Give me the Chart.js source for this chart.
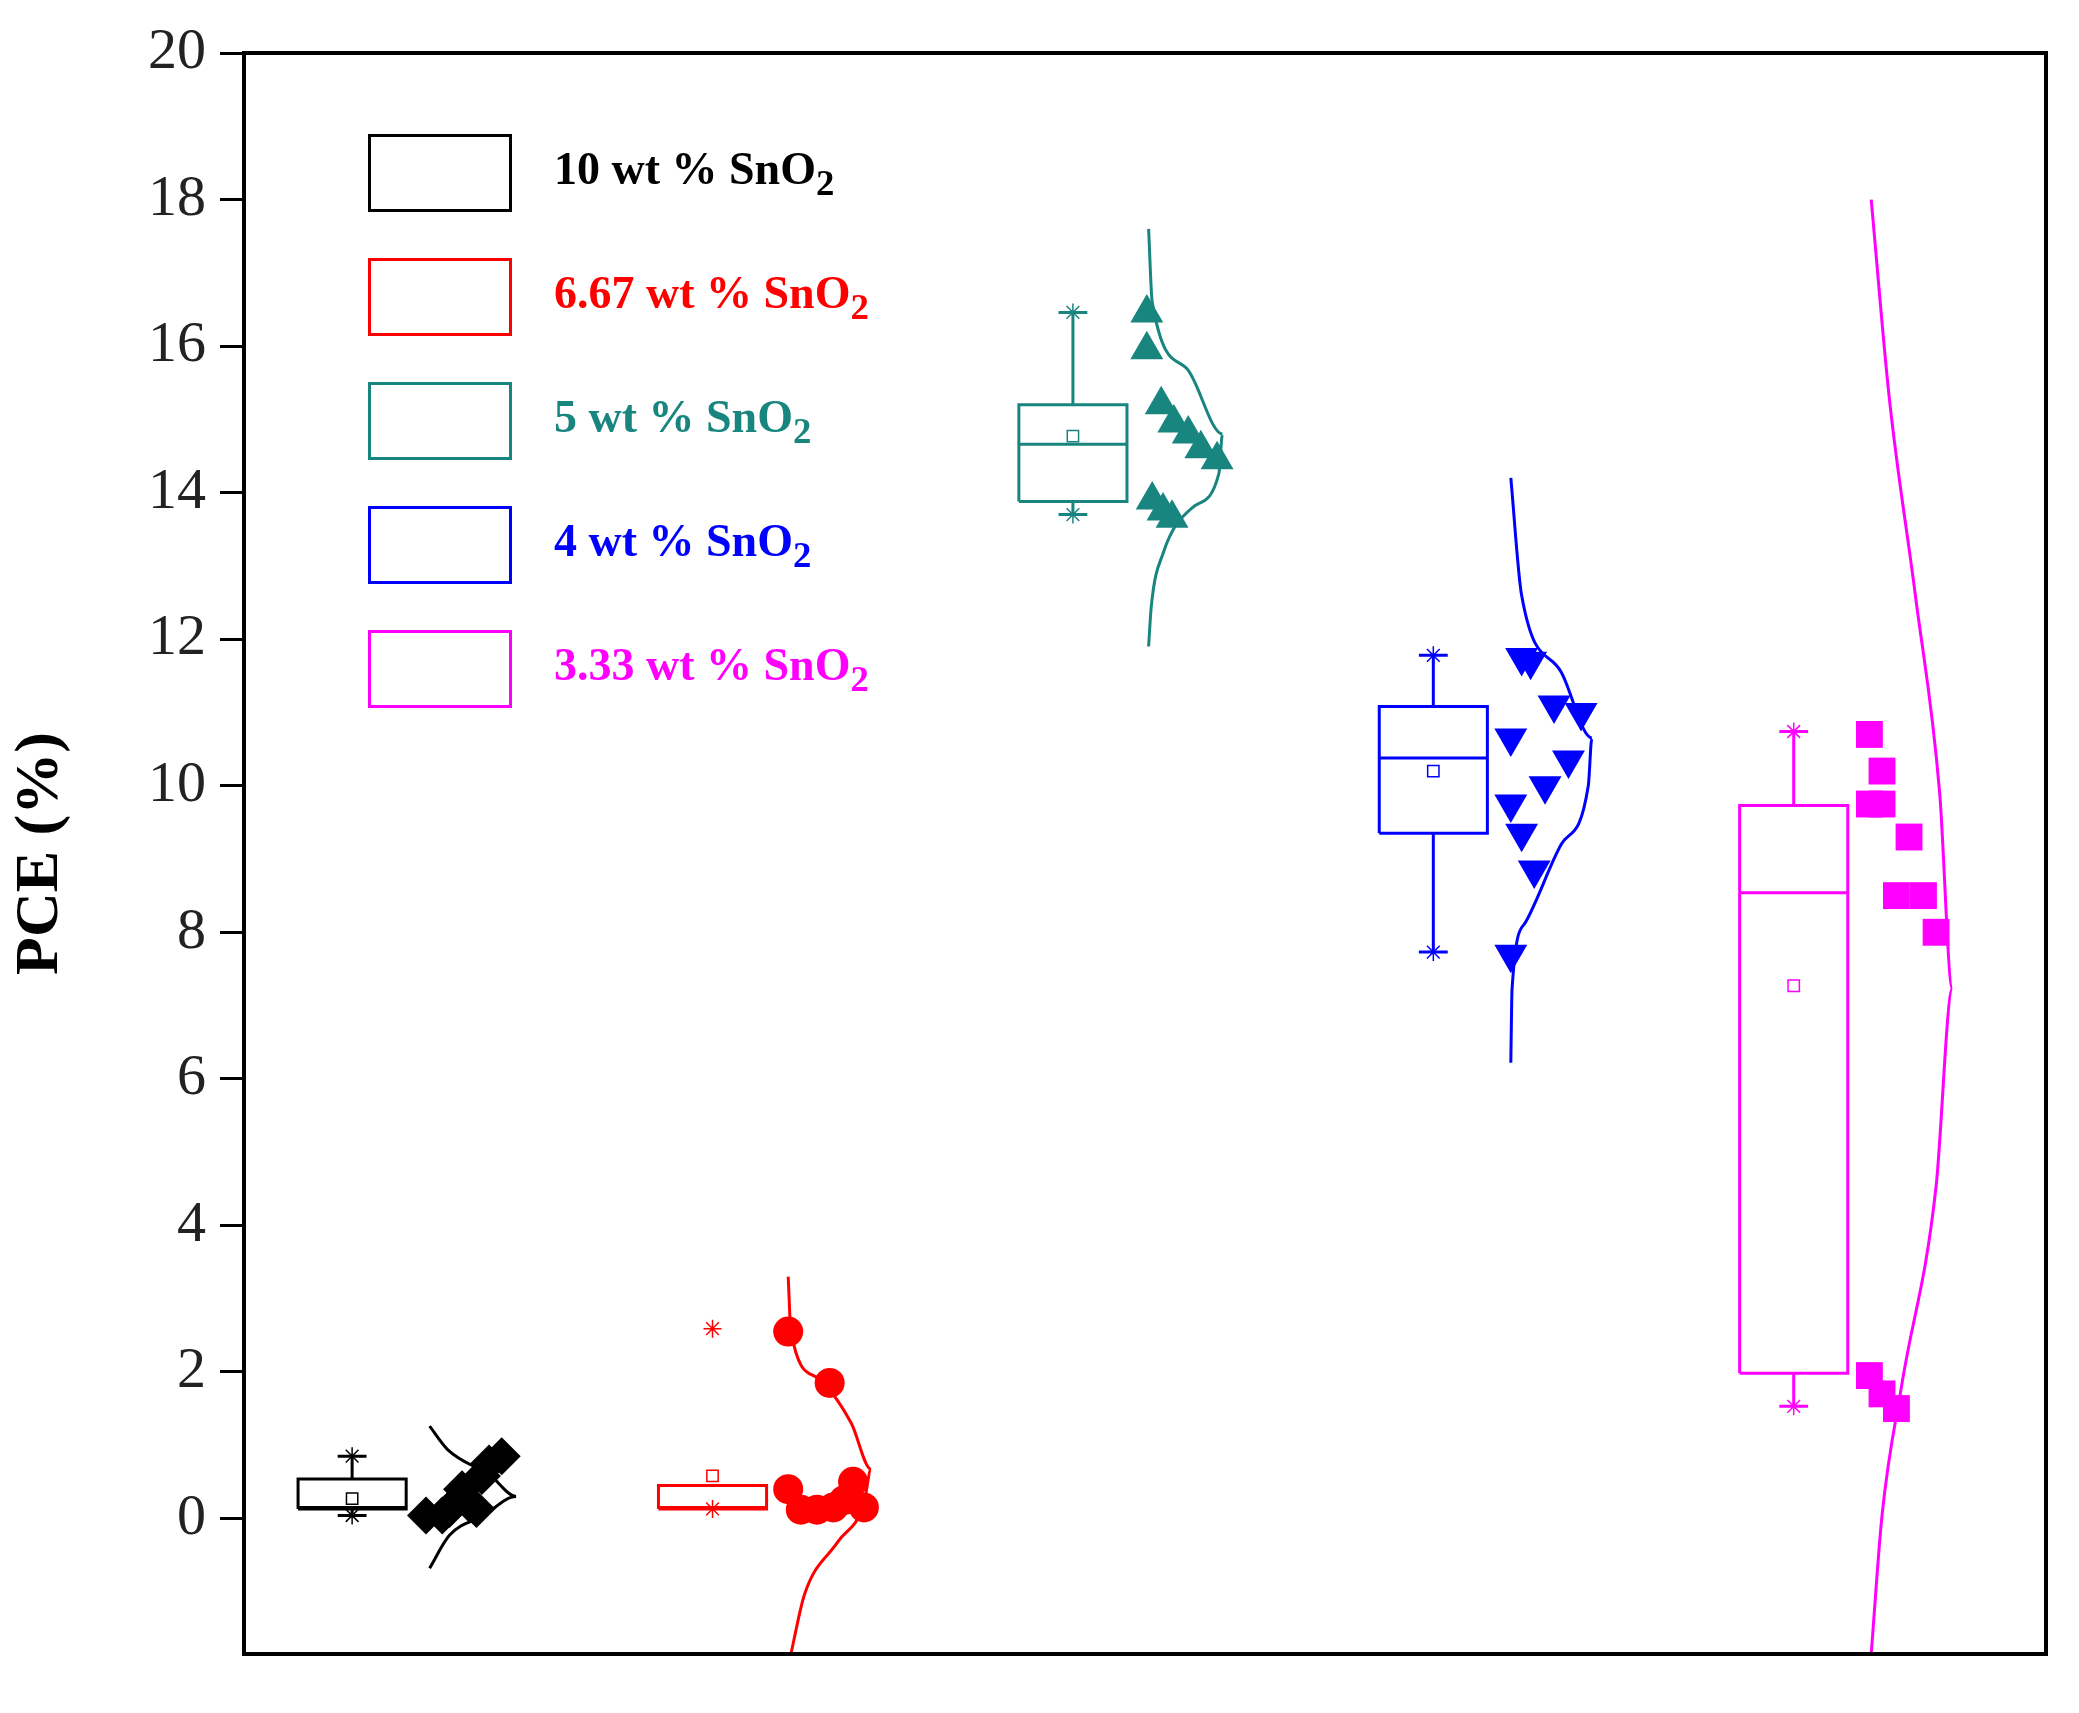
<!DOCTYPE html>
<html>
<head>
<meta charset="utf-8">
<script src="https://cdn.jsdelivr.net/npm/chart.js@4"></script>
<style>
  html, body { margin: 0; padding: 0; background: #fff; }
  #wrap { position: relative; width: 2079px; height: 1713px; }
  #legend { position: absolute; left: 368px; top: 132px; font-family: "Liberation Serif", serif; font-weight: bold; font-size: 46px; }
  .row { display: flex; align-items: center; height: 82px; margin-bottom: 42px; }
  .swatch { width: 144px; height: 78px; border: 3px solid; box-sizing: border-box; margin-right: 42px; }
  sub { font-size: 0.8em; vertical-align: -0.3em; }
</style>
</head>
<body>
<div id="wrap">
  <canvas id="pce" width="2079" height="1713"></canvas>
  <div id="legend"></div>
</div>
<script>
const groups = ['10 wt % SnO', '6.67 wt % SnO', '5 wt % SnO', '4 wt % SnO', '3.33 wt % SnO'];
const colors = ['#000000', '#ff0000', '#18857f', '#0000ff', '#ff00ff'];
const markers = ['rectRot', 'circle', 'triangle', 'triangle', 'rect'];
const markerRotation = [0, 0, 0, 180, 0];

// box statistics
const boxCenter = [6, 26, 46, 66, 86];
const q1 = [0.13, 0.13, 13.88, 9.35, 1.98];
const q3 = [0.54, 0.45, 15.2, 11.08, 9.73];
const median = [0.15, 0.15, 14.66, 10.38, 8.54];
const mean = [0.27, 0.58, 14.77, 10.2, 7.27];
const whiskerHigh = [0.85, null, 16.46, 11.78, 10.74];
const whiskerLow = [0.04, null, 13.7, 7.73, 1.53];
const extremeHigh = [0.85, 2.59, 16.46, 11.78, 10.74];
const extremeLow = [0.04, 0.13, 13.7, 7.73, 1.53];

// raw points
const pointsX = [
  [10.1, 11.4, 12.5, 12.1, 13.2, 13.6, 14.3, 12.9, 11.0],
  [30.2, 32.5, 30.2, 30.9, 31.8, 32.7, 33.8, 34.4, 33.3],
  [50.1, 50.1, 50.9, 51.6, 52.4, 53.1, 54.0, 50.4, 51.0, 51.5],
  [70.9, 71.4, 72.7, 74.2, 70.3, 73.5, 72.2, 70.3, 70.9, 71.6, 70.3],
  [90.2, 90.9, 90.2, 90.9, 92.4, 91.7, 93.2, 93.9, 90.2, 90.9, 91.7]
];
const pointsY = [
  [0.04, 0.13, 0.2, 0.4, 0.58, 0.75, 0.85, 0.13, 0.04],
  [2.55, 1.85, 0.4, 0.12, 0.12, 0.15, 0.5, 0.15, 0.25],
  [16.45, 15.95, 15.2, 14.95, 14.8, 14.6, 14.45, 13.9, 13.75, 13.65],
  [11.75, 11.7, 11.1, 11.0, 10.65, 10.35, 10.0, 9.75, 9.35, 8.85, 7.7],
  [10.7, 10.2, 9.75, 9.75, 9.3, 8.5, 8.5, 8.0, 1.95, 1.7, 1.5]
];

// distribution curves
const curveBase = [10.3, 30.2, 50.2, 70.3, 90.3];
const curveY = [
  [1.26, 0.94, 0.58, 0.3, 0.04, -0.23, -0.68],
  [3.3, 2.55, 1.92, 1.3, 0.67, 0.2, -0.32, -1.04, -1.85],
  [17.6, 16.6, 15.7, 14.8, 14.26, 13.8, 13.17, 12.45, 11.9],
  [14.2, 12.6, 11.55, 10.65, 10.0, 9.2, 8.13, 7.23, 6.22],
  [18.0, 15.3, 12.6, 9.9, 7.23, 4.53, 1.83, 0.04, -1.85]
];
const curveOffset = [
  [0, 1.0, 3.4, 4.8, 3.0, 1.1, 0],
  [0, 0.15, 1.6, 3.5, 4.6, 4.2, 2.75, 0.9, 0.15],
  [0, 0.2, 2.1, 4.1, 3.9, 2.45, 0.8, 0.15, 0],
  [0, 0.6, 2.8, 4.5, 4.3, 2.8, 0.8, 0.07, 0],
  [0, 1.0, 2.45, 3.8, 4.5, 3.6, 1.7, 0.6, 0]
];

const yTicks = [0, 2, 4, 6, 8, 10, 12, 14, 16, 18, 20];
const halfBox = 3;
const capHalf = 0.8;

// legend
const legend = document.getElementById('legend');
groups.forEach((g, i) => {
  const row = document.createElement('div');
  row.className = 'row';
  row.innerHTML = `<div class="swatch" style="border-color:${colors[i]}"></div>` +
    `<span style="color:${colors[i]}">${g}<sub>2</sub></span>`;
  legend.appendChild(row);
});

const gap = { x: null, y: null };
const datasets = [];
const lineBase = { showLine: true, pointRadius: 0, borderWidth: 3, spanGaps: false, tension: 0 };

groups.forEach((g, i) => {
  const c = boxCenter[i];
  const col = colors[i];
  // box
  datasets.push({ ...lineBase, borderColor: col, data: [
    { x: c - halfBox, y: q1[i] }, { x: c + halfBox, y: q1[i] }, { x: c + halfBox, y: q3[i] },
    { x: c - halfBox, y: q3[i] }, { x: c - halfBox, y: q1[i] }, gap,
    { x: c - halfBox, y: median[i] }, { x: c + halfBox, y: median[i] }
  ] });
  // whiskers and caps
  if (whiskerHigh[i] !== null) {
    datasets.push({ ...lineBase, borderColor: col, data: [
      { x: c, y: q3[i] }, { x: c, y: whiskerHigh[i] }, gap,
      { x: c - capHalf, y: whiskerHigh[i] }, { x: c + capHalf, y: whiskerHigh[i] }, gap,
      { x: c, y: q1[i] }, { x: c, y: whiskerLow[i] }, gap,
      { x: c - capHalf, y: whiskerLow[i] }, { x: c + capHalf, y: whiskerLow[i] }
    ] });
  }
  // extreme markers
  datasets.push({ showLine: false, pointStyle: 'star', pointRadius: 9, borderWidth: 1.5,
    borderColor: col, backgroundColor: col,
    data: [{ x: c, y: extremeHigh[i] }, { x: c, y: extremeLow[i] }] });
  // mean
  datasets.push({ showLine: false, pointStyle: 'rect', pointRadius: 8, borderWidth: 1.5,
    borderColor: col, backgroundColor: 'rgba(255,255,255,0)', data: [{ x: c, y: mean[i] }] });
  // curve
  datasets.push({ showLine: true, pointRadius: 0, borderWidth: 3, borderColor: col, tension: 0.4,
    cubicInterpolationMode: 'monotone',
    data: curveY[i].map((y, k) => ({ x: curveBase[i] + curveOffset[i][k], y: y })) });
  // raw data points
  datasets.push({ showLine: false, pointStyle: markers[i], rotation: markerRotation[i],
    pointRadius: i === 1 ? 15 : 19, borderWidth: 0, backgroundColor: col, borderColor: col,
    data: pointsX[i].map((x, k) => ({ x: x, y: pointsY[i][k] })) });
});

const framePlugin = {
  id: 'frame',
  afterDraw(chart) {
    const a = chart.chartArea;
    const ctx = chart.ctx;
    ctx.save();
    ctx.strokeStyle = '#000';
    ctx.lineWidth = 4;
    ctx.strokeRect(a.left, a.top, a.right - a.left, a.bottom - a.top);
    ctx.restore();
  }
};

new Chart(document.getElementById('pce').getContext('2d'), {
  type: 'scatter',
  data: { datasets: datasets },
  plugins: [framePlugin],
  options: {
    responsive: false,
    animation: false,
    layout: { padding: { top: 53, right: 33, bottom: 59, left: 0 } },
    plugins: { legend: { display: false }, tooltip: { enabled: false } },
    scales: {
      x: { type: 'linear', min: 0, max: 100, display: false },
      y: {
        type: 'linear', min: -1.85, max: 20,
        afterBuildTicks: axis => { axis.ticks = yTicks.map(v => ({ value: v })); },
        afterFit: axis => { axis.width = 244; },
        border: { display: true, color: '#000', width: 4 },
        grid: { drawOnChartArea: false, drawTicks: true, tickLength: 24, tickWidth: 3, tickColor: '#000' },
        ticks: { color: '#222', padding: 14, font: { family: 'Liberation Serif', size: 58 } },
        title: { display: true, text: 'PCE (%)', color: '#000', padding: { bottom: 8 },
          font: { family: 'Liberation Serif', size: 62, weight: 'bold' } }
      }
    }
  }
});
</script>
</body>
</html>
